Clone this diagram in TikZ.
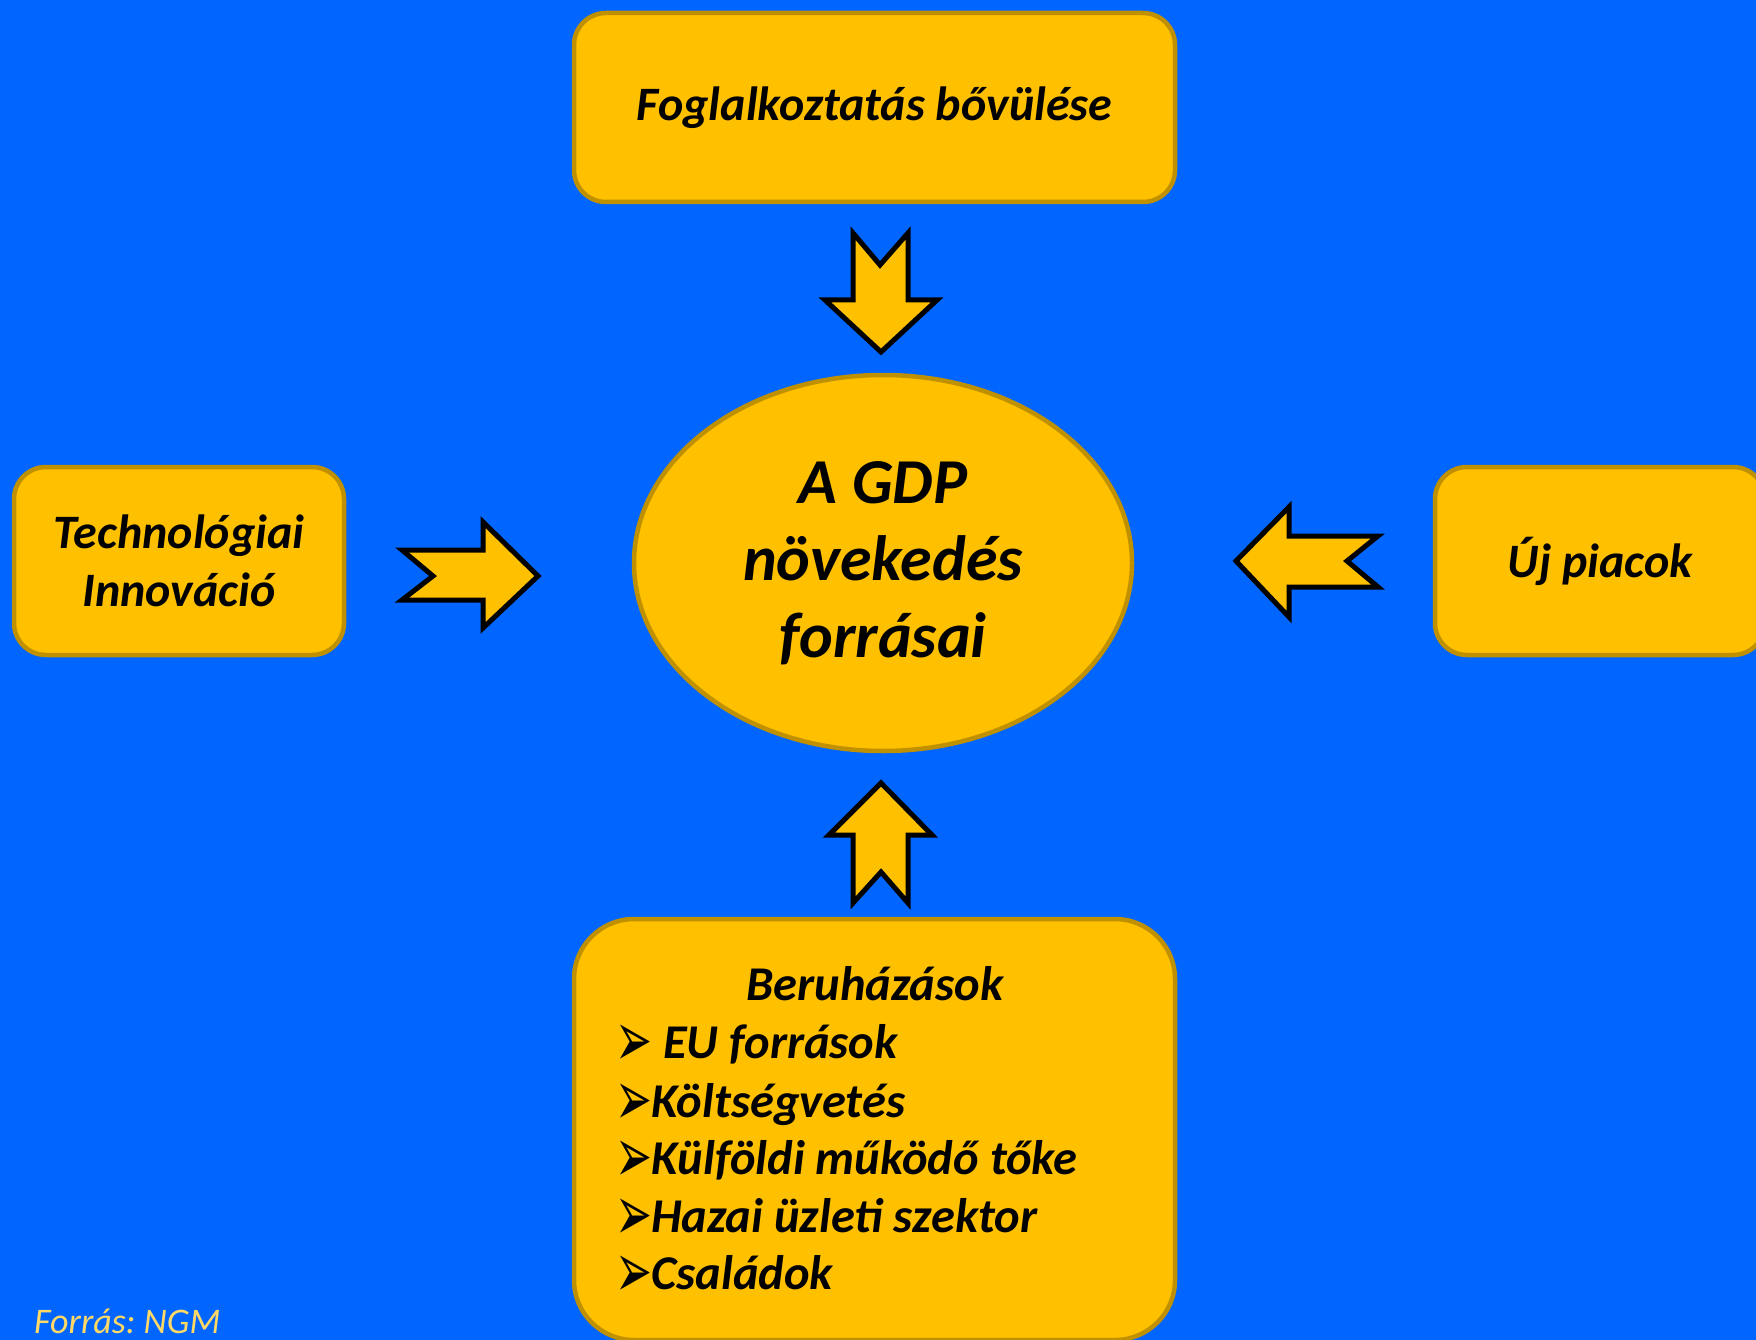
\documentclass[tikz,border=0pt]{standalone}
\usepackage{fontspec}
\usepackage{graphicx}
\setmainfont{Carlito}
\newfontfamily\dejavu{DejaVu Sans}
\usetikzlibrary{shapes.geometric}
\definecolor{bg}{HTML}{0066FF}
\definecolor{gold}{HTML}{FFC000}
\definecolor{golddark}{HTML}{BF9000}
\definecolor{srccol}{HTML}{FFD966}
\frenchspacing
\newcommand{\arrbullet}{\scalebox{0.85}[1.5]{➢}}
\tikzset{
  box/.style={draw=golddark, fill=gold, line width=4.5pt, rounded corners=32pt,
    font=\fontsize{48}{58}\selectfont\bfseries\itshape, align=center, inner sep=0pt},
  blockarrow/.style={draw=black, fill=gold, line width=5pt, line join=miter},
  itemtext/.style={anchor=base west, inner sep=0pt, font=\fontsize{48.5}{58}\selectfont\bfseries\itshape},
  bullet/.style={anchor=base west, inner sep=0pt, font=\fontsize{52}{60}\selectfont\dejavu},
}
\begin{document}
\begin{tikzpicture}[x=1pt,y=-1pt]
\useasboundingbox (0,0) rectangle (1756,1340);
\fill[bg] (0,0) rectangle (1756,1340);
\clip (0,0) rectangle (1756,1340);

% boxes
\node[box, minimum width=601pt, minimum height=189pt] (top) at (874.5,107.5) {Foglalkoztatás bővülése};
\node[box, minimum width=330pt, minimum height=188pt] (left) at (179,561) {Technológiai\\Innováció};
\node[box, minimum width=330pt, minimum height=188pt] (right) at (1600,561) {Új piacok};
\node[box, rounded corners=60pt, minimum width=601pt, minimum height=421pt] (bottom) at (874.5,1129.5) {};

% ellipse
\node[ellipse, draw=golddark, fill=gold, line width=4.5pt, minimum width=498pt, minimum height=376pt,
  align=center, inner sep=0pt, font=\fontsize{64}{77}\selectfont\bfseries\itshape] (gdp) at (883,563)
  {A GDP\\növekedés\\forrásai};

% block arrows
\draw[blockarrow] (853,233) -- (880,265) -- (908,233) -- (908,300) -- (937,300) -- (881,352) -- (825,300) -- (853,300) -- cycle;
\draw[blockarrow] (881,783) -- (932,835) -- (908,835) -- (908,903) -- (881,872) -- (853,903) -- (853,835) -- (829,835) -- cycle;
\draw[blockarrow] (402,550) -- (483,550) -- (483,522) -- (538,576) -- (483,628) -- (483,600) -- (402,600) -- (433,576) -- cycle;
\draw[blockarrow] (1236,561) -- (1289,507) -- (1289,536) -- (1378,536) -- (1347,561) -- (1378,587) -- (1289,587) -- (1289,617) -- cycle;

% bottom box content
\node[anchor=base, inner sep=0pt, font=\fontsize{48.5}{58}\selectfont\bfseries\itshape] (beru) at (875,1000) {Beruházások};
\node[bullet] (b1) at (615,1066) {\arrbullet};
\node[itemtext] (t1) at (663,1058) {EU források};
\node[bullet] (b2) at (615,1125) {\arrbullet};
\node[itemtext] (t2) at (651,1117) {Költségvetés};
\node[bullet] (b3) at (615,1182) {\arrbullet};
\node[itemtext] (t3) at (651,1174) {Külföldi működő tőke};
\node[bullet] (b4) at (615,1240) {\arrbullet};
\node[itemtext] (t4) at (651,1232) {Hazai üzleti szektor};
\node[bullet] (b5) at (615,1297) {\arrbullet};
\node[itemtext] (t5) at (651,1289) {Családok};

% source
\node[anchor=base west, inner sep=0pt, text=srccol, font=\fontsize{36}{43}\selectfont\itshape] (src) at (34,1333) {Forrás: NGM};
\end{tikzpicture}
\end{document}
